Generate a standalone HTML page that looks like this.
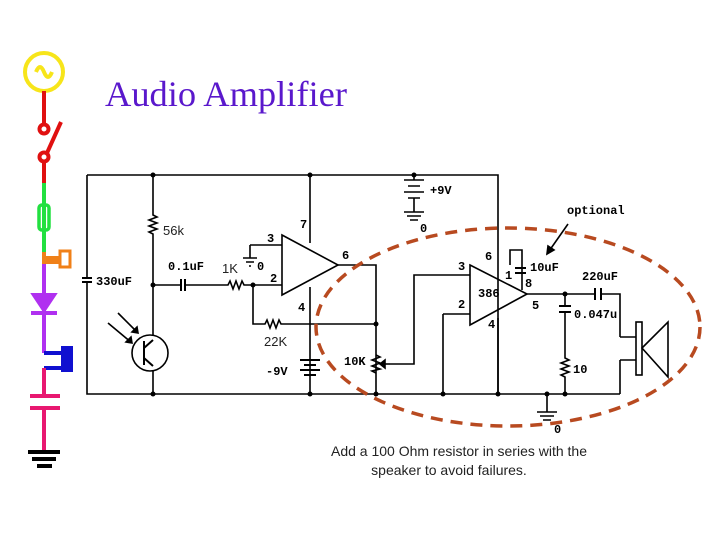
<!DOCTYPE html>
<html><head><style>body{margin:0;background:#fff}svg{display:block}</style></head><body>
<svg width="720" height="540" viewBox="0 0 720 540" xmlns="http://www.w3.org/2000/svg" font-family="Liberation Mono, monospace">
<rect width="720" height="540" fill="#fff"/>
<text x="105" y="106" font-family="Liberation Serif, serif" font-size="36" fill="#5a18cc" textLength="242" lengthAdjust="spacingAndGlyphs">Audio Amplifier</text>
<!-- left colored strip -->
<g stroke-width="4" fill="none">
<circle cx="44" cy="72" r="19" stroke="#f7e51a"/>
<path d="M36 72 q4 -10 8 0 q4 10 8 0" stroke="#f7e51a"/>
<path d="M44 91 V124 M47 153 L61 122 M44 162 V183" stroke="#e01010"/>
<circle cx="44" cy="129" r="4.5" stroke="#e01010"/>
<circle cx="44" cy="157" r="4.5" stroke="#e01010"/>
<path d="M44 183 V252" stroke="#22e040"/>
<rect x="39" y="205" width="10" height="25" rx="3" stroke="#22e040" stroke-width="3.5"/>
<path d="M44 252 V264 M44 258 H60 M44 262 H60" stroke="#f08018"/>
<rect x="60" y="251" width="10" height="16" stroke="#f08018" stroke-width="3"/>
<path d="M44 264 V353" stroke="#b030f0"/>
<path d="M34 295 H54 L44 310 Z" fill="#b030f0" stroke="#b030f0"/>
<path d="M31 313 H57" stroke="#b030f0"/>
<path d="M44 353 H64 M44 368 H64" stroke="#1010d0"/>
<rect x="63" y="348" width="8" height="22" fill="#1010d0" stroke="#1010d0"/>
<path d="M44 368 V396 M44 408 V450 M30 396 H60 M30 408 H60" stroke="#e81870"/>
<path d="M28 452 H60 M32 459 H56 M37 466 H52" stroke="#000"/>
</g>
<!-- circuit -->
<g stroke="#000" stroke-width="1.6" fill="none">
<path d="M87 175 H498 V394 M87 175 V394 H620"/>
<path d="M82 278 H92 M82 282 H92" stroke-width="2"/>
<rect x="84" y="279" width="6" height="2" fill="#fff" stroke="none"/>
<path d="M153 175 V215 l4 2 -8 3 8 3 -8 3 8 3 -8 3 4 2 V335 M153 371 V394"/>
<path d="M153 285 H180 M186 285 H228 l2 -4 3 8 3 -8 3 8 3 -8 2 4 H282"/>
<path d="M181 279 V291 M185 279 V291" stroke-width="2"/>
<circle cx="150" cy="353" r="18"/>
<path d="M144 341 V365 M144 348 L153 340 M144 358 L153 366" stroke-width="2"/>
<path d="M118 313 L138 333 M108 323 L132 343"/>
<path d="M138 333 l-6 -1 5 -5 Z M132 343 l-6 -1 5 -5 Z" fill="#000"/>
<path d="M282 235 L338 265 L282 295 Z"/>
<path d="M250 245 H282 M250 245 V258 M243 258 H257 M246 262 H254 M249 266 H251"/>
<path d="M310 175 V243 M310 287 V394"/>
<path d="M338 265 H376 V394"/>
<path d="M253 285 V324 H265 l2 -4 3 8 3 -8 3 8 3 -8 2 4 H376"/>
<path d="M300 360 H320 M304 365 H316 M300 370 H320 M304 375 H316" stroke-width="2"/>
<path d="M376 355 l4 2 -8 3 8 3 -8 3 8 3 -8 2 4 2"/>
<path d="M390 364 H384" /><path d="M385 360 L380 364 L385 368 Z" fill="#000"/>
<path d="M390 364 H414 V275 H470 M443 314 H470 M443 314 V394"/>
<path d="M470 265 L527 294 L470 325 Z"/>
<path d="M498 394 V318"/>
<path d="M510 265 V250 H522 V290"/>
<path d="M515 268 H526 M515 273 H526" stroke-width="2"/>
<path d="M527 294 H595 M601 294 H620 V337 M620 360 V394"/>
<path d="M595 288 V300 M601 288 V300" stroke-width="2"/>
<path d="M565 294 V306 M565 312 V358 l4 2 -8 3 8 3 -8 3 8 3 -8 3 4 2 V394"/>
<path d="M559 306 H571 M559 312 H571" stroke-width="2"/>
<path d="M620 337 H636 M620 360 H636"/>
<rect x="636" y="322" width="6" height="53"/>
<path d="M642 348 L668 322 V377 Z"/>
<path d="M414 175 V180 M404 180 H424 M408 186 H420 M404 192 H424 M408 198 H420 M414 198 V212 M404 212 H424 M407 216 H421 M410 220 H418" stroke-width="1.6"/>
<path d="M547 394 V412 M537 412 H557 M540 416 H554 M543 420 H551"/>
<path d="M568 224 L547 254"/>
<path d="M547 254 l1 -8 6 4 Z" fill="#000"/>
</g>
<g fill="#000">
<circle cx="153" cy="175" r="2.5"/><circle cx="310" cy="175" r="2.5"/><circle cx="414" cy="175" r="2.5"/>
<circle cx="153" cy="285" r="2.5"/><circle cx="253" cy="285" r="2.5"/><circle cx="376" cy="324" r="2.5"/>
<circle cx="153" cy="394" r="2.5"/><circle cx="310" cy="394" r="2.5"/><circle cx="376" cy="394" r="2.5"/>
<circle cx="443" cy="394" r="2.5"/><circle cx="498" cy="394" r="2.5"/><circle cx="547" cy="394" r="2.5"/>
<circle cx="565" cy="394" r="2.5"/><circle cx="565" cy="294" r="2.5"/>
</g>
<ellipse cx="508" cy="327" rx="192" ry="99" fill="none" stroke="#b84a20" stroke-width="3.5" stroke-dasharray="12 8"/>
<g font-size="12" font-weight="bold" fill="#000">
<text x="96" y="285">330uF</text>
<text x="168" y="270">0.1uF</text>
<text x="267" y="242">3</text><text x="300" y="228">7</text><text x="342" y="259">6</text>
<text x="270" y="282">2</text><text x="298" y="311">4</text><text x="257" y="270">0</text>
<text x="266" y="375">-9V</text><text x="344" y="365">10K</text>
<text x="430" y="194">+9V</text><text x="420" y="232">0</text>
<text x="458" y="270">3</text><text x="485" y="260">6</text><text x="458" y="308">2</text>
<text x="488" y="328">4</text><text x="478" y="297">386</text><text x="505" y="279">1</text>
<text x="525" y="287">8</text><text x="530" y="271">10uF</text><text x="532" y="309">5</text>
<text x="582" y="280">220uF</text><text x="574" y="318">0.047u</text><text x="573" y="373">10</text>
<text x="567" y="214">optional</text><text x="554" y="433">0</text>
</g>
<g font-family="Liberation Sans, sans-serif" font-size="13" fill="#222">
<text x="163" y="235">56k</text><text x="222" y="273">1K</text><text x="264" y="346">22K</text>
</g>
<g font-family="Liberation Sans, sans-serif" font-size="14" fill="#222" text-anchor="middle">
<text x="459" y="456">Add a 100 Ohm resistor in series with the</text>
<text x="449" y="475">speaker to avoid failures.</text>
</g>
</svg>
</body></html>
